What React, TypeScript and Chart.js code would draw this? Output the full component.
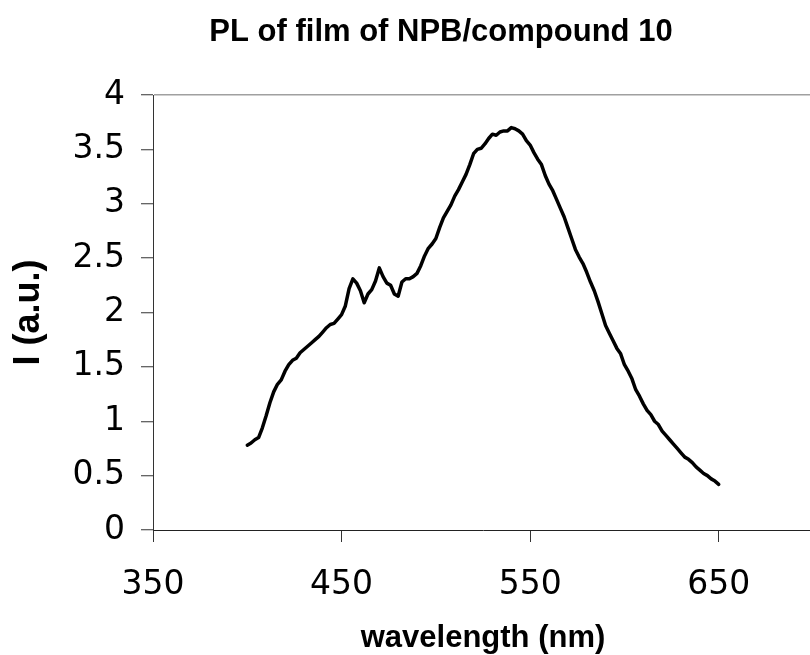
import React, { useEffect, useRef } from "react";
import { Chart, registerables } from "chart.js";

Chart.register(...registerables);

const chartTitle = "PL of film of NPB/compound 10";
const xAxisTitle = "wavelength (nm)";
const yAxisTitle = "I (a.u.)";

const xTickValues = [350, 450, 550, 650];
const xTickLabels = ["350", "450", "550", "650"];
const yTickValues = [0, 0.5, 1, 1.5, 2, 2.5, 3, 3.5, 4];
const yTickLabels = ["0", "0.5", "1", "1.5", "2", "2.5", "3", "3.5", "4"];

const wavelengths = [
  400, 402, 404, 406, 408, 410, 412, 414, 416, 418,
  420, 422, 424, 426, 428, 430, 432, 434, 436, 438,
  440, 442, 444, 446, 448, 450, 452, 454, 456, 458,
  460, 462, 464, 466, 468, 470, 472, 474, 476, 478,
  480, 482, 484, 486, 488, 490, 492, 494, 496, 498,
  500, 502, 504, 506, 508, 510, 512, 514, 516, 518,
  520, 522, 524, 526, 528, 530, 532, 534, 536, 538,
  540, 542, 544, 546, 548, 550, 552, 554, 556, 558,
  560, 562, 564, 566, 568, 570, 572, 574, 576, 578,
  580, 582, 584, 586, 588, 590, 592, 594, 596, 598,
  600, 602, 604, 606, 608, 610, 612, 614, 616, 618,
  620, 622, 624, 626, 628, 630, 632, 634, 636, 638,
  640, 642, 644, 646, 648, 650,
];

const intensity = [
  0.78, 0.80, 0.83, 0.85, 0.94, 1.05, 1.17, 1.27, 1.34, 1.38,
  1.46, 1.52, 1.56, 1.58, 1.63, 1.66, 1.69, 1.72, 1.75, 1.78,
  1.82, 1.86, 1.89, 1.90, 1.94, 1.98, 2.06, 2.22, 2.31, 2.27,
  2.20, 2.09, 2.17, 2.21, 2.29, 2.41, 2.33, 2.27, 2.25, 2.17,
  2.15, 2.28, 2.31, 2.31, 2.33, 2.36, 2.43, 2.52, 2.59, 2.63,
  2.68, 2.78, 2.87, 2.93, 2.99, 3.07, 3.13, 3.20, 3.27, 3.36,
  3.46, 3.50, 3.51, 3.55, 3.60, 3.64, 3.63, 3.66, 3.67, 3.67,
  3.70, 3.69, 3.67, 3.64, 3.58, 3.54, 3.47, 3.41, 3.36, 3.26,
  3.18, 3.12, 3.04, 2.96, 2.88, 2.78, 2.68, 2.58, 2.51, 2.45,
  2.37, 2.28, 2.20, 2.10, 1.99, 1.88, 1.81, 1.74, 1.67, 1.62,
  1.52, 1.46, 1.39, 1.29, 1.23, 1.16, 1.10, 1.06, 1.00, 0.97,
  0.91, 0.87, 0.83, 0.79, 0.75, 0.71, 0.67, 0.65, 0.62, 0.58,
  0.55, 0.52, 0.50, 0.47, 0.45, 0.42,
];

const titleFont = 'bold 31px "Liberation Sans", Arial, sans-serif';

const chartTitlePlugin = {
  id: "chartTitleOffset",
  afterDraw(chart: any) {
    const ctx = chart.ctx;
    ctx.save();
    ctx.font = titleFont;
    ctx.fillStyle = "#000";
    ctx.textAlign = "center";
    ctx.textBaseline = "middle";
    ctx.fillText(chartTitle, 441, 32);
    ctx.restore();
  },
};

const tickFont = { family: '"DejaVu Sans", sans-serif', size: 33 };
const hidden = "rgba(0,0,0,0)";

export default function App() {
  const canvasRef = useRef<HTMLCanvasElement | null>(null);

  useEffect(() => {
    if (!canvasRef.current) return;
    const points = wavelengths.map((w, i) => ({ x: w, y: intensity[i] }));
    const chart = new Chart(canvasRef.current, {
      type: "line",
      data: {
        datasets: [
          {
            data: points,
            borderColor: "#000",
            borderWidth: 3.5,
            pointRadius: 0,
            fill: false,
            tension: 0,
            borderJoinStyle: "round",
            borderCapStyle: "round",
          },
        ],
      },
      options: {
        animation: false,
        responsive: false,
        layout: { padding: { top: 95, left: 0, right: 0, bottom: 0 } },
        plugins: {
          legend: { display: false },
          tooltip: { enabled: false },
          title: { display: false },
        },
        scales: {
          x: {
            type: "linear",
            min: 350,
            max: 700,
            afterBuildTicks: (scale: any) => {
              scale.ticks = xTickValues.map((v) => ({ value: v }));
            },
            afterFit: (scale: any) => {
              scale.height = 125;
            },
            ticks: {
              padding: 24,
              color: "#000",
              font: tickFont,
              maxRotation: 0,
              autoSkip: false,
              callback: (v: any) => {
                const idx = xTickValues.indexOf(Number(v));
                return idx >= 0 ? xTickLabels[idx] : "";
              },
            },
            grid: {
              drawOnChartArea: false,
              drawTicks: true,
              tickLength: 12,
              color: "#333",
              tickColor: "#333",
            },
            border: { display: true, color: "#222", width: 1 },
            title: {
              display: true,
              text: xAxisTitle,
              color: "#000",
              font: { family: '"Liberation Sans", Arial, sans-serif', size: 31, weight: "bold" },
              padding: { top: 0, bottom: -2 },
            },
          },
          y: {
            type: "linear",
            min: 0,
            max: 4,
            afterBuildTicks: (scale: any) => {
              scale.ticks = yTickValues.map((v) => ({ value: v }));
            },
            afterFit: (scale: any) => {
              scale.width = 153;
            },
            ticks: {
              padding: 16,
              color: "#000",
              font: tickFont,
              autoSkip: false,
              callback: (v: any) => {
                const idx = yTickValues.indexOf(Number(v));
                return idx >= 0 ? yTickLabels[idx] : "";
              },
            },
            grid: {
              drawOnChartArea: true,
              drawTicks: true,
              tickLength: 12,
              lineWidth: 1.5,
              tickWidth: 1,
              color: (ctx: any) =>
                ctx.tick && ctx.tick.value === 4 ? "#a0a0a0" : hidden,
              tickColor: "#333",
            },
            border: { display: true, color: "#333", width: 1 },
            title: {
              display: true,
              text: yAxisTitle,
              color: "#000",
              font: { family: '"Liberation Sans", Arial, sans-serif', size: 36, weight: "bold" },
              padding: { top: 7, bottom: 0 },
            },
          },
        },
      },
      plugins: [chartTitlePlugin],
    });
    return () => chart.destroy();
  }, []);

  return (
    <div
      style={{
        position: "absolute",
        left: 0,
        top: 0,
        width: 810,
        height: 655,
        overflow: "hidden",
        background: "#fff",
      }}
    >
      <canvas ref={canvasRef} width={813} height={655} style={{ display: "block" }} />
    </div>
  );
}
